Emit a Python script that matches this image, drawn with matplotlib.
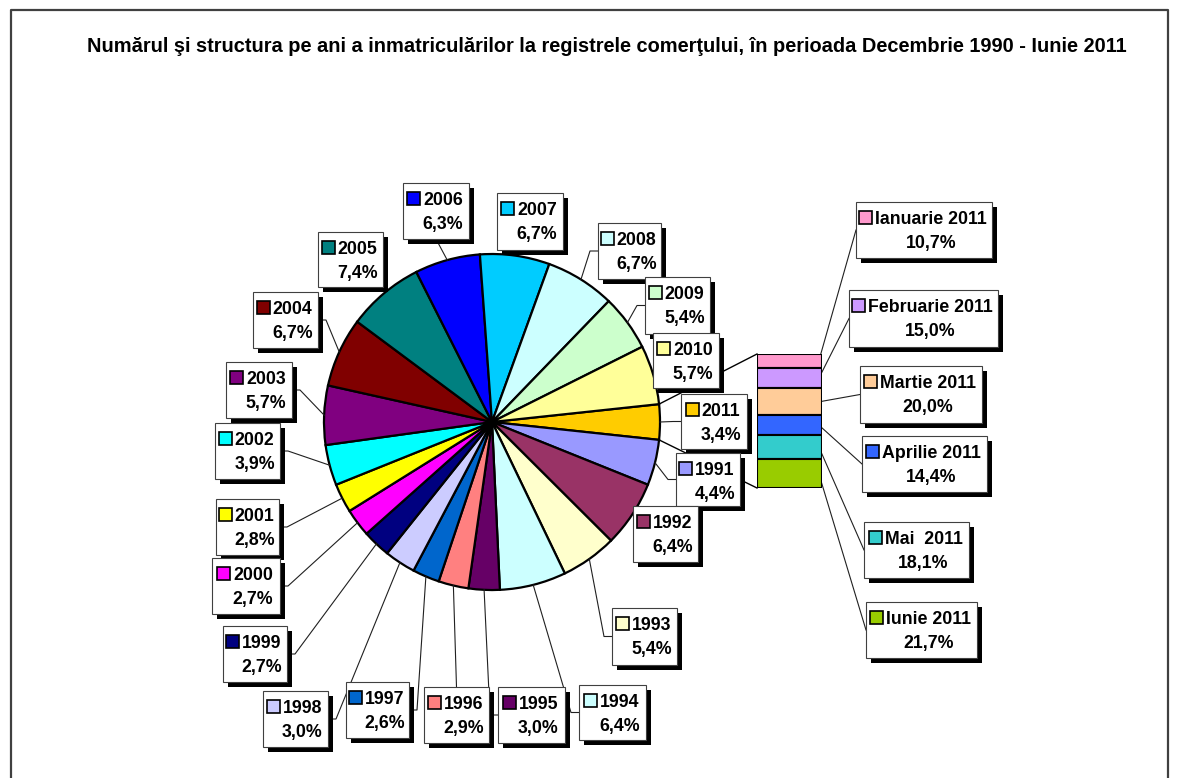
import matplotlib
matplotlib.use("Agg")
import matplotlib.pyplot as plt
from matplotlib.patches import Rectangle
import numpy as np

plt.rcParams['font.family'] = ['Liberation Sans', 'DejaVu Sans']

title = ("Numărul şi structura pe ani a inmatriculărilor la registrele comerţului, "
         "în perioada Decembrie 1990 - Iunie 2011")

# pie slices, clockwise starting with the split-off slice (2011)
years = ["2011", "1991", "1992", "1993", "1994", "1995", "1996", "1997", "1998",
         "1999", "2000", "2001", "2002", "2003", "2004", "2005", "2006", "2007",
         "2008", "2009", "2010"]
year_pct = [3.4, 4.4, 6.4, 5.4, 6.4, 3.0, 2.9, 2.6, 3.0,
            2.7, 2.7, 2.8, 3.9, 5.7, 6.7, 7.4, 6.3, 6.7,
            6.7, 5.4, 5.7]
year_colors = ["#FFCC00", "#9999FF", "#993366", "#FFFFCC", "#CCFFFF", "#660066",
               "#FF8080", "#0066CC", "#CCCCFF", "#000080", "#FF00FF", "#FFFF00",
               "#00FFFF", "#800080", "#800000", "#008080", "#0000FF", "#00CCFF",
               "#CCFFFF", "#CCFFCC", "#FFFF99"]

# 2011 split by month (bar)
months = ["Ianuarie 2011", "Februarie 2011", "Martie 2011", "Aprilie 2011",
          "Mai  2011", "Iunie 2011"]
month_pct = [10.7, 15.0, 20.0, 14.4, 18.1, 21.7]
month_colors = ["#FF99CC", "#CC99FF", "#FFCC99", "#3366FF", "#33CCCC", "#99CC00"]

# label boxes in pixels (x0, y0, x1, y1, side where the leader attaches)
year_boxes = {
    "2011": (681, 394, 747, 449, "l"),
    "1991": (676, 453, 740, 506, "l"),
    "1992": (633, 506, 698, 562, None),
    "1993": (612, 608, 677, 665, "l"),
    "1994": (579, 685, 646, 740, "l"),
    "1995": (498, 687, 565, 743, "l"),
    "1996": (424, 687, 489, 743, "t"),
    "1997": (346, 682, 409, 738, "r"),
    "1998": (263, 691, 328, 747, "r"),
    "1999": (223, 626, 287, 682, "r"),
    "2000": (212, 558, 280, 614, "r"),
    "2001": (216, 499, 279, 555, "r"),
    "2002": (215, 423, 280, 479, "r"),
    "2003": (226, 362, 292, 418, "r"),
    "2004": (253, 292, 318, 348, "r"),
    "2005": (318, 232, 383, 287, None),
    "2006": (403, 183, 469, 239, "b"),
    "2007": (497, 193, 563, 250, None),
    "2008": (598, 223, 661, 279, "l"),
    "2009": (645, 277, 710, 334, "l"),
    "2010": (653, 333, 719, 388, None),
}
month_boxes = [(856, 202, 992, 258), (849, 290, 998, 347), (860, 366, 982, 423),
               (862, 436, 987, 492), (864, 522, 969, 578), (866, 602, 977, 658)]

W, H = 1179, 778
cx, cy, R = 492, 422, 168

fig = plt.figure(figsize=(W / 100, H / 100), dpi=100)
ax = fig.add_axes([0, 0, 1, 1])

total = sum(year_pct)
start = -180 * year_pct[0] / total
wedges, _ = ax.pie(year_pct, colors=year_colors, startangle=start, counterclock=True,
                   center=(cx, cy), radius=R, frame=True,
                   wedgeprops=dict(edgecolor="black", linewidth=1.6))
ax.set_xlim(0, W)
ax.set_ylim(H, 0)
ax.set_aspect("auto")
ax.axis("off")

# bar of the months
bax = fig.add_axes([757 / W, (H - 488) / H, 65 / W, 134 / H])
bottoms = np.concatenate([[0], np.cumsum(month_pct)[:-1]])
bax.bar(0, month_pct, bottom=bottoms, width=1, color=month_colors,
        edgecolor="black", linewidth=1.5)
bax.set_xlim(-0.5, 0.5)
bax.set_ylim(sum(month_pct), 0)
bax.axis("off")

to_main = ax.transData.inverted()
def bar_pt(x, y):
    return to_main.transform(bax.transData.transform((x, y)))

# connector lines pie -> bar
w0 = wedges[0]
for th, by in [(w0.theta1, 0), (w0.theta2, sum(month_pct))]:
    px = cx + R * np.cos(np.radians(th))
    py = cy + R * np.sin(np.radians(th))
    bx, byy = bar_pt(-0.5, by)
    ax.plot([px, bx], [py, byy], color="black", lw=1.0, zorder=1)

renderer = fig.canvas.get_renderer()
fs = 12.8

def label_box(x0, y0, x1, y1, line1, line2, color):
    ax.add_patch(Rectangle((x0 + 5, y0 + 5), x1 - x0, y1 - y0, facecolor="black",
                           edgecolor="none", zorder=3))
    ax.add_patch(Rectangle((x0, y0), x1 - x0, y1 - y0, facecolor="white",
                           edgecolor="#404040", lw=0.8, zorder=4))
    tx = (x0 + x1) / 2 + 7
    t1 = ax.text(tx, y0 + 22, line1, ha="center", va="baseline", fontsize=fs,
                 fontweight="bold", zorder=5)
    ax.text(tx, y0 + 46, line2, ha="center", va="baseline", fontsize=fs,
            fontweight="bold", zorder=5)
    bb = t1.get_window_extent(renderer=renderer)
    left = to_main.transform((bb.x0, bb.y0))[0]
    ax.add_patch(Rectangle((left - 16, y0 + 9), 13, 13, facecolor=color,
                           edgecolor="black", lw=1.2, zorder=5))

def pct_text(v):
    return f"{v:.1f}".replace(".", ",") + "%"

# year labels with leaders
for w, yr, v, col in zip(wedges, years, year_pct, year_colors):
    x0, y0, x1, y1, side = year_boxes[yr]
    th = np.radians((w.theta1 + w.theta2) / 2)
    px, py = cx + R * np.cos(th), cy + R * np.sin(th)
    if side == "l":
        ay = (y0 + y1) / 2
        ax.plot([x0, x0 - 8, px], [ay, ay, py], color="#202020", lw=0.8, zorder=2)
    elif side == "r":
        ay = (y0 + y1) / 2
        ax.plot([x1, x1 + 8, px], [ay, ay, py], color="#202020", lw=0.8, zorder=2)
    elif side == "t":
        ax.plot([(x0 + x1) / 2, px], [y0, py], color="#202020", lw=0.8, zorder=2)
    elif side == "b":
        ax.plot([(x0 + x1) / 2, px], [y1, py], color="#202020", lw=0.8, zorder=2)
    label_box(x0, y0, x1, y1, yr, pct_text(v), col)

# month labels with leaders
for i, (m, v, col) in enumerate(zip(months, month_pct, month_colors)):
    x0, y0, x1, y1 = month_boxes[i]
    sx, sy = bar_pt(0.45, bottoms[i] + v / 2)
    ax.plot([sx, x0], [sy, (y0 + y1) / 2], color="#202020", lw=0.8, zorder=2)
    label_box(x0, y0, x1, y1, m, pct_text(v), col)

ax.text(607, 46, title, ha="center", va="center", fontsize=14.4, fontweight="bold")

# outer frame
ax.plot([11, 11, 1168, 1168], [H + 5, 10, 10, H + 5], color="#404040", lw=1.6,
        clip_on=False)

fig.savefig("out.png", dpi=100)
